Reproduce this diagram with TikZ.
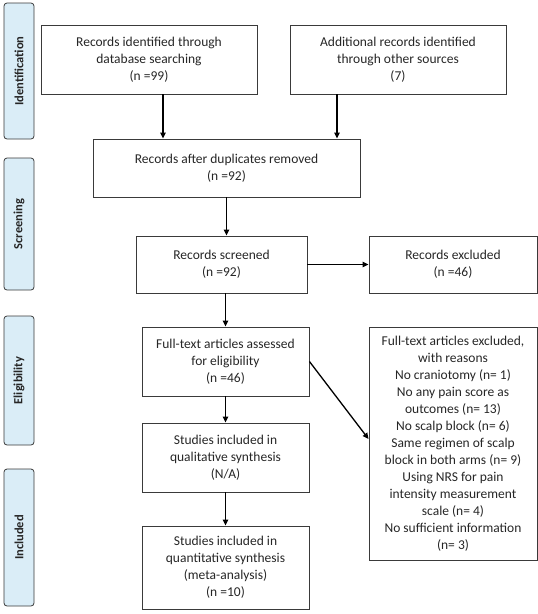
\documentclass[tikz,border=0pt]{standalone}
\usepackage{fontspec}
\setmainfont{Carlito}
\usetikzlibrary{arrows.meta}
\definecolor{phase}{HTML}{DAEDF7}
\definecolor{edge}{HTML}{3A3A3A}
\begin{document}
\begin{tikzpicture}[x=1pt, y=-1pt,
	box/.style={draw=edge, line width=0.9pt, align=center, inner sep=2pt, text=black!85, font=\fontsize{13.5}{17}\selectfont},
	phasebox/.style={draw=edge, fill=phase, rounded corners=3pt, line width=0.8pt, rotate=90, minimum height=30pt, font=\fontsize{12.5}{14}\selectfont\bfseries, text=black!85},
	arr/.style={line width=1.3pt, -{Triangle[length=6pt, width=5.5pt]}}]

	\useasboundingbox (0,0) rectangle (538,614);

	%phases
	\node[phasebox, minimum width=136pt] (ident) at (19,71) {Identification};
	\node[phasebox, minimum width=132pt] (scr) at (19,224) {Screening};
	\node[phasebox, minimum width=129pt] (elig) at (19,380.5) {Eligibility};
	\node[phasebox, minimum width=137pt] (incl) at (19,537.5) {Included};

	%boxes
	\node[box, minimum width=216pt, minimum height=69pt] (search) at (149,59.5)
		{Records identified through\\database searching\\(n =99)};
	\node[box, minimum width=216pt, minimum height=69pt] (other) at (398,59.5)
		{Additional records identified\\through other sources\\(7)};
	\node[box, minimum width=267pt, minimum height=58pt] (dupl) at (226.5,168)
		{Records after duplicates removed\\(n =92)};
	\node[box, minimum width=171pt, minimum height=57pt] (screen) at (221.5,264.5)
		{Records screened\\(n =92)};
	\node[box, minimum width=168pt, minimum height=57pt] (screenex) at (453,264.5)
		{Records excluded\\(n =46)};
	\node[box, minimum width=167pt, minimum height=69pt] (full) at (225.5,361.5)
		{Full-text articles assessed\\for eligibility\\(n =46)};
	\node[box, minimum width=168pt, minimum height=233pt] (fullex) at (453,443.5)
		{Full-text articles excluded,\\with reasons\\No craniotomy (n= 1)\\No any pain score as\\outcomes (n= 13)\\No scalp block (n= 6)\\Same regimen of scalp\\block in both arms (n= 9)\\Using NRS for pain\\intensity measurement\\scale (n= 4)\\No sufficient information\\(n= 3)};
	\node[box, minimum width=167pt, minimum height=69pt] (qual) at (225.5,457.5)
		{Studies included in\\qualitative synthesis\\(N/A)};
	\node[box, minimum width=167pt, minimum height=83pt] (quant) at (225.5,567.5)
		{Studies included in\\quantitative synthesis\\(meta-analysis)\\(n =10)};

	%arrows
	\draw[arr] ([xshift=14pt]search.south) -- ([xshift=14pt]search.south |- dupl.north);
	\draw[arr] ([xshift=-61pt]other.south) -- ([xshift=-61pt]other.south |- dupl.north);
	\draw[arr] (dupl.south) -- (dupl.south |- screen.north);
	\draw[arr] (screen.east) -- (screenex.west);
	\draw[arr] (full.north |- screen.south) -- (full.north);
	\draw[arr] (full.east) -- ([yshift=4.5pt]fullex.west);
	\draw[arr] (full.south) -- (qual.north);
	\draw[arr] (qual.south) -- (quant.north);
\end{tikzpicture}
\end{document}
